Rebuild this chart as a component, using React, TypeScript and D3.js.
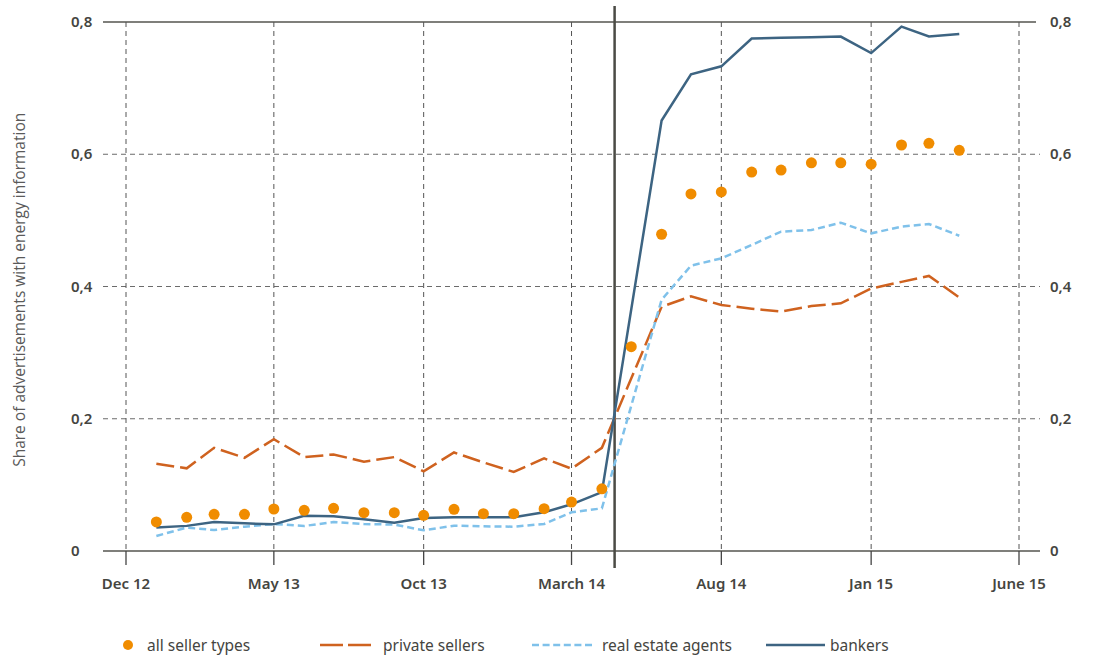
import React, { useEffect, useRef } from "react";
import * as d3 from "d3";

// monthly observations, Jan 2013 - Apr 2015
const months = [
    "2013-01", "2013-02", "2013-03", "2013-04", "2013-05", "2013-06", "2013-07",
    "2013-08", "2013-09", "2013-10", "2013-11", "2013-12", "2014-01", "2014-02",
    "2014-03", "2014-04", "2014-05", "2014-06", "2014-07", "2014-08", "2014-09",
    "2014-10", "2014-11", "2014-12", "2015-01", "2015-02", "2015-03", "2015-04",
];

const allSellers = [
    0.044, 0.051, 0.0555, 0.0555, 0.0635, 0.0615, 0.0645, 0.058, 0.058, 0.054,
    0.063, 0.0565, 0.0565, 0.064, 0.074, 0.094, 0.309, 0.479, 0.54, 0.543,
    0.573, 0.576, 0.587, 0.587, 0.585, 0.614, 0.6165, 0.606,
];

// the lines have no May 2014 value
const privateSellers = [
    0.132, 0.125, 0.156, 0.141, 0.169, 0.142, 0.146, 0.135, 0.142, 0.1205,
    0.149, 0.134, 0.1195, 0.14, 0.1245, 0.156, null, 0.3695, 0.385, 0.372,
    0.3665, 0.362, 0.3705, 0.3745, 0.397, 0.407, 0.416, 0.3835,
];

const realEstateAgents = [
    0.0227, 0.0353, 0.0318, 0.0368, 0.0408, 0.0378, 0.0439, 0.0408, 0.04, 0.0313,
    0.0383, 0.0373, 0.0368, 0.0408, 0.0585, 0.0645, null, 0.38, 0.4315, 0.4426,
    0.4628, 0.483, 0.4854, 0.4965, 0.4804, 0.4905, 0.4945, 0.4768,
];

const bankers = [
    0.0354, 0.038, 0.044, 0.0418, 0.0403, 0.0534, 0.0524, 0.048, 0.0428, 0.05,
    0.051, 0.051, 0.051, 0.0585, 0.0706, 0.089, null, 0.651, 0.721, 0.733,
    0.775, 0.776, 0.777, 0.778, 0.753, 0.793, 0.778, 0.782,
];

const xTicks = ["2012-12", "2013-05", "2013-10", "2014-03", "2014-08", "2015-01", "2015-06"];
const xTickLabels = ["Dec 12", "May 13", "Oct 13", "March 14", "Aug 14", "Jan 15", "June 15"];
const yTicks = [0, 0.2, 0.4, 0.6, 0.8];
const markerDate = "2014-04-14";

const colors = {
    all: "#f08c00",
    private: "#cf621f",
    agents: "#7fc1ea",
    bankers: "#3d6482",
};

const width = 1097;
const height = 657;

const App = () => {
    const svgRef = useRef(null);

    useEffect(() => {
        const parse = d3.timeParse("%Y-%m");
        const dates = months.map(parse);

        const x = d3
            .scaleTime()
            .domain([parse("2012-12"), parse("2015-06")])
            .range([126, 1019]);
        const y = d3.scaleLinear().domain([0, 0.8]).range([551, 22]);

        const svg = d3.select(svgRef.current);
        svg.selectAll("*").remove();

        const font = "'Noto Sans', 'Open Sans', sans-serif";

        // horizontal grid + frame lines
        const grid = svg.append("g");
        yTicks.forEach((t) => {
            const edge = t === 0 || t === 0.8;
            grid.append("line")
                .attr("x1", 103)
                .attr("x2", t === 0.8 ? 1036 : 1040)
                .attr("y1", y(t))
                .attr("y2", y(t))
                .attr("stroke", edge ? "#55554f" : "#6b6b6b")
                .attr("stroke-width", edge ? 1.3 : 1)
                .attr("stroke-dasharray", edge ? null : "5,4");
        });

        // vertical grid + ticks
        xTicks.forEach((t) => {
            const xp = x(parse(t));
            grid.append("line")
                .attr("x1", xp).attr("x2", xp)
                .attr("y1", y(0.8)).attr("y2", y(0))
                .attr("stroke", "#555")
                .attr("stroke-width", 1)
                .attr("stroke-dasharray", "5,4");
            grid.append("line")
                .attr("x1", xp).attr("x2", xp)
                .attr("y1", y(0)).attr("y2", y(0) + 14)
                .attr("stroke", "#444")
                .attr("stroke-width", 1.3);
        });

        // tick labels
        svg.append("g")
            .selectAll("text")
            .data(xTicks)
            .enter()
            .append("text")
            .attr("x", (d) => x(parse(d)))
            .attr("y", 589)
            .attr("text-anchor", "middle")
            .style("font-family", font)
            .style("font-size", "15px")
            .style("font-weight", 600)
            .style("fill", "#45453f")
            .text((d, i) => xTickLabels[i]);

        const yFmt = (d) => (d === 0 ? "0" : d3.format(".1f")(d).replace(".", ","));
        [71, 1050].forEach((lx) => {
            svg.append("g")
                .selectAll("text")
                .data(yTicks)
                .enter()
                .append("text")
                .attr("x", lx)
                .attr("y", (d) => y(d) + 5)
                .style("font-family", font)
                .style("font-size", "15px")
                .style("font-weight", 600)
                .style("fill", "#45453f")
                .text(yFmt);
        });

        svg.append("text")
            .attr("transform", `translate(25,${y(0.395)}) rotate(-90)`)
            .attr("text-anchor", "middle")
            .style("font-family", "'Open Sans', sans-serif")
            .style("font-size", "15.5px")
            .style("font-weight", 400)
            .style("fill", "#5a5a5a")
            .text("Share of advertisements with energy information");

        // marker line
        const mx = x(d3.timeParse("%Y-%m-%d")(markerDate));
        svg.append("line")
            .attr("x1", mx).attr("x2", mx)
            .attr("y1", 6).attr("y2", 568)
            .attr("stroke", "#4b4b45")
            .attr("stroke-width", 2.5);

        // series lines
        const drawLine = (values, color, dash) => {
            const pts = values
                .map((v, i) => ({ date: dates[i], v }))
                .filter((d) => d.v !== null);
            const line = d3.line().x((d) => x(d.date)).y((d) => y(d.v));
            svg.append("path")
                .datum(pts)
                .attr("d", line)
                .attr("fill", "none")
                .attr("stroke", color)
                .attr("stroke-width", 2.5)
                .attr("stroke-dasharray", dash);
        };

        drawLine(privateSellers, colors.private, "18,6");
        drawLine(realEstateAgents, colors.agents, "7,4");
        drawLine(bankers, colors.bankers, null);

        svg.append("g")
            .selectAll("circle")
            .data(allSellers)
            .enter()
            .append("circle")
            .attr("cx", (d, i) => x(dates[i]))
            .attr("cy", (d) => y(d))
            .attr("r", 5.5)
            .attr("fill", colors.all);

        // legend
        const legend = svg.append("g").attr("transform", "translate(0,645)");
        const legendText = (lx, label) =>
            legend.append("text")
                .attr("x", lx)
                .attr("y", 5.5)
                .style("font-family", font)
                .style("font-size", "15.5px")
                .style("fill", "#45453f")
                .text(label);

        legend.append("circle").attr("cx", 128).attr("cy", 0).attr("r", 5).attr("fill", colors.all);
        legendText(147, "all seller types");

        legend.append("line")
            .attr("x1", 320).attr("x2", 371).attr("y1", 0).attr("y2", 0)
            .attr("stroke", colors.private).attr("stroke-width", 2.5)
            .attr("stroke-dasharray", "23,5");
        legendText(383, "private sellers");

        legend.append("line")
            .attr("x1", 532).attr("x2", 592).attr("y1", 0).attr("y2", 0)
            .attr("stroke", colors.agents).attr("stroke-width", 2.5)
            .attr("stroke-dasharray", "7,3.6");
        legendText(602, "real estate agents");

        legend.append("line")
            .attr("x1", 766).attr("x2", 825).attr("y1", 0).attr("y2", 0)
            .attr("stroke", colors.bankers).attr("stroke-width", 2.5);
        legendText(830, "bankers");
    });

    return (
        <svg
            ref={svgRef}
            width={width}
            height={height}
            style={{ position: "absolute", left: 0, top: 0, background: "#fff" }}
        ></svg>
    );
};

export default App;
